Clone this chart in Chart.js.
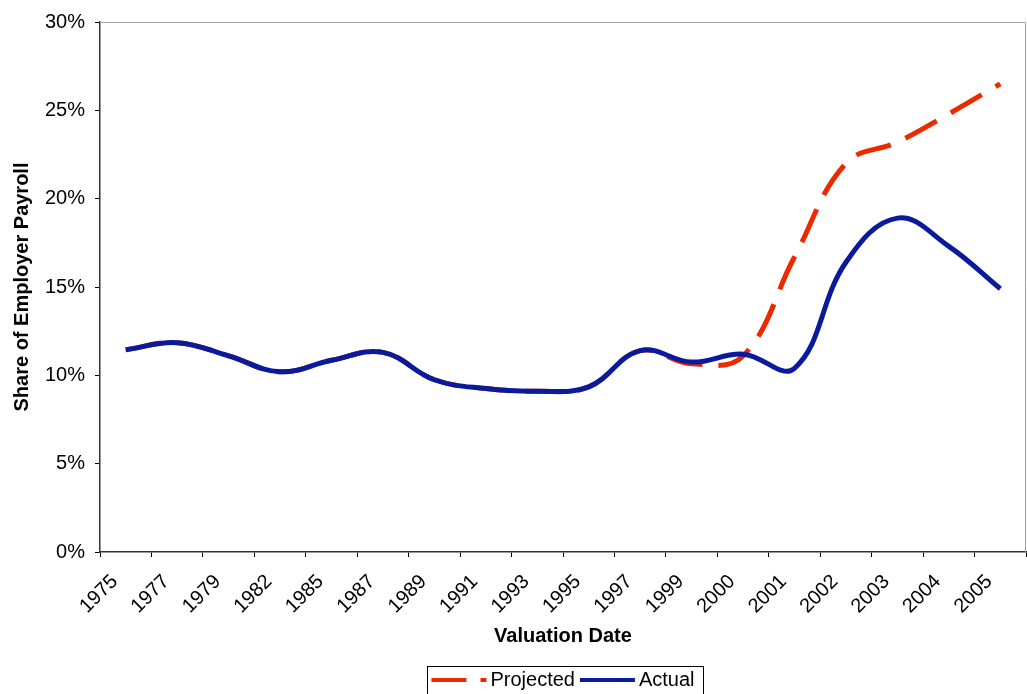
<!DOCTYPE html>
<html>
<head>
<meta charset="utf-8">
<script src="https://cdn.jsdelivr.net/npm/chart.js@4/dist/chart.umd.min.js"></script>
<style>
  html, body { margin: 0; padding: 0; background: #fff; }
  #wrap { width: 1027px; height: 694px; }
</style>
</head>
<body>
<div id="wrap"><canvas id="chart" width="1027" height="694"></canvas></div>
<script>
// valuation dates (category axis)
const years = ['1975', '1977', '1979', '1982', '1985', '1987', '1989', '1991', '1993',
  '1995', '1997', '1999', '2000', '2001', '2002', '2003', '2004', '2005'];

// share of employer payroll, percent
const actual = [11.45, 11.85, 11.1, 10.2, 10.85, 11.3, 9.75, 9.25, 9.1,
  9.35, 11.4, 10.75, 11.2, 10.4, 16.4, 18.9, 17.3, 14.9];
const projected = [11.45, 11.85, 11.1, 10.2, 10.85, 11.3, 9.75, 9.25, 9.1,
  9.35, 11.4, 10.65, 11.1, 16.7, 22.0, 23.2, 24.8, 26.5];

const yTicks = [0, 5, 10, 15, 20, 25, 30];

const FONT = "'Liberation Sans', Arial, sans-serif";
const RED = '#ec2a00';
const BLUE = '#0a1a9c';
const SYMBOL_W = 49;

// gray frame on top/right of plot area
const frame = {
  id: 'frame',
  beforeDatasetsDraw(chart) {
    const { ctx, chartArea: a } = chart;
    ctx.save();
    ctx.strokeStyle = '#a0a0a0';
    ctx.lineWidth = 1;
    ctx.beginPath();
    ctx.moveTo(a.left, a.top + 0.5);
    ctx.lineTo(a.right - 0.5, a.top + 0.5);
    ctx.lineTo(a.right - 0.5, a.bottom);
    ctx.stroke();
    ctx.restore();
  }
};

// legend symbols (Excel style) and the black box round the legend
const legendBox = {
  id: 'legendBox',
  afterDraw(chart) {
    const legend = chart.legend;
    const boxes = legend && legend.legendHitBoxes;
    if (!boxes || !boxes.length) return;
    const ctx = chart.ctx;
    ctx.save();
    legend.legendItems.forEach((item, i) => {
      const b = boxes[i];
      const ds = chart.data.datasets[item.datasetIndex];
      const y = b.top + b.height / 2;
      ctx.strokeStyle = ds.borderColor;
      ctx.lineWidth = 4;
      ctx.lineCap = 'butt';
      ctx.setLineDash(ds.borderDash ? [35, 14] : []);
      ctx.beginPath();
      ctx.moveTo(b.left, y);
      ctx.lineTo(b.left + SYMBOL_W + 6, y);
      ctx.stroke();
    });
    ctx.setLineDash([]);
    const left = Math.min(...boxes.map(b => b.left)) - 4;
    const right = Math.max(...boxes.map(b => b.left + b.width)) + 9;
    const top = Math.min(...boxes.map(b => b.top)) - 4;
    const bottom = Math.max(...boxes.map(b => b.top + b.height)) + 4;
    ctx.strokeStyle = '#000';
    ctx.lineWidth = 1;
    ctx.strokeRect(Math.round(left) + 0.5, Math.round(top) + 0.5, Math.round(right - left), Math.round(bottom - top));
    ctx.restore();
  }
};

new Chart(document.getElementById('chart'), {
  type: 'line',
  data: {
    labels: years,
    datasets: [
      {
        label: 'Actual',
        data: actual,
        borderColor: BLUE,
        backgroundColor: BLUE,
        borderWidth: 5,
        pointRadius: 0,
        tension: 0.4,
        fill: false
      },
      {
        label: 'Projected',
        data: projected,
        borderColor: RED,
        backgroundColor: RED,
        borderWidth: 5,
        borderDash: [36, 16],
        borderCapStyle: 'butt',
        pointRadius: 0,
        tension: 0.4,
        fill: false
      }
    ]
  },
  options: {
    responsive: false,
    animation: false,
    layout: { padding: { top: 20, right: 1, left: 0, bottom: -6 } },
    plugins: {
      tooltip: { enabled: false },
      legend: {
        position: 'bottom',
        reverse: true,
        fullSize: false,
        labels: {
          usePointStyle: true,
          pointStyle: 'line',
          pointStyleWidth: SYMBOL_W,
          padding: 5,
          color: '#000',
          font: { family: FONT, size: 20 },
          generateLabels(chart) {
            const items = Chart.defaults.plugins.legend.labels.generateLabels(chart);
            items.forEach(it => { it.strokeStyle = 'rgba(0,0,0,0)'; it.fillStyle = 'rgba(0,0,0,0)'; });
            return items;
          }
        }
      }
    },
    scales: {
      x: {
        offset: true,
        grid: { offset: true, drawOnChartArea: false, drawTicks: true, tickLength: 5, color: '#000' },
        border: { color: '#333', width: 1.5 },
        ticks: {
          color: '#000',
          font: { family: FONT, size: 20 },
          maxRotation: 45,
          minRotation: 45,
          autoSkip: false,
          padding: 13,
          labelOffset: -11
        },
        title: {
          display: true,
          text: 'Valuation Date',
          color: '#000',
          font: { family: FONT, size: 20, weight: 'bold' },
          padding: { top: 4, bottom: 17 }
        },
        afterFit(scale) {
          scale.height = 113;
          scale.paddingLeft = 0;
          scale.paddingRight = 0;
        }
      },
      y: {
        min: 0,
        max: 30,
        grid: { drawOnChartArea: false, drawTicks: true, tickLength: 5, color: '#000' },
        border: { color: '#333', width: 1.5 },
        afterBuildTicks(scale) { scale.ticks = yTicks.map(v => ({ value: v })); },
        ticks: {
          color: '#000',
          font: { family: FONT, size: 20 },
          padding: 10,
          callback: v => v + '%'
        },
        title: {
          display: true,
          text: 'Share of Employer Payroll',
          color: '#000',
          font: { family: FONT, size: 20, weight: 'bold' },
          padding: { top: 10, bottom: 0 }
        },
        afterFit(scale) { scale.width = 100; }
      }
    }
  },
  plugins: [frame, legendBox]
});
</script>
</body>
</html>
